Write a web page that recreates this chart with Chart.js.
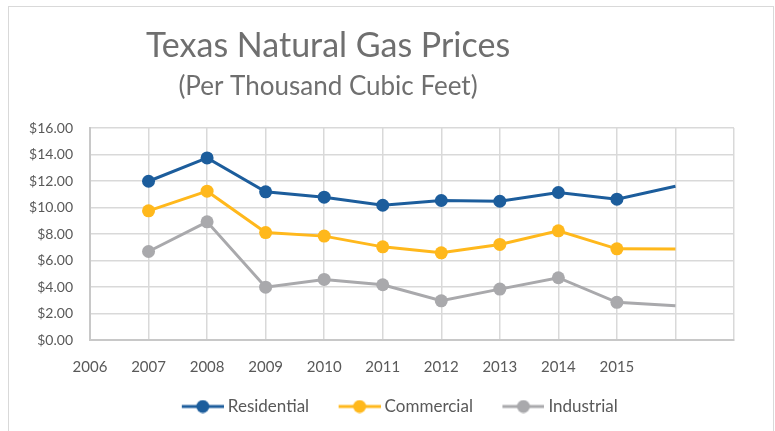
<!DOCTYPE html>
<html>
<head>
<meta charset="utf-8">
<script src="https://cdn.jsdelivr.net/npm/chart.js@4/dist/chart.umd.min.js"></script>
<style>
  body { margin: 0; background: white; }
  #frame { position: absolute; left: 8px; top: 6px; width: 764px; height: 440px; border: 1px solid #d9d9d9; }
  #wrap { position: absolute; left: 0; top: 0; width: 775px; height: 431px; }
</style>
</head>
<body>
<div id="frame"></div>
<div id="wrap"><canvas id="gasChart" width="775" height="431"></canvas></div>
<script>
// years the points sit on (2016 point has no marker, no label)
var years = [2007, 2008, 2009, 2010, 2011, 2012, 2013, 2014, 2015, 2016]
var residential = [11.98, 13.74, 11.18, 10.78, 10.17, 10.53, 10.47, 11.13, 10.63, 11.60]
var commercial  = [9.75, 11.23, 8.11, 7.84, 7.03, 6.58, 7.21, 8.24, 6.88, 6.86]
var industrial  = [6.68, 8.92, 3.99, 4.57, 4.17, 2.96, 3.84, 4.70, 2.84, 2.59]
var seriesNames = ["Residential", "Commercial", "Industrial"]
var seriesColors = ["#1c5d9c", "#ffb81c", "#a9a9ac"]
var titleText = "Texas Natural Gas Prices"
var subtitleText = "(Per Thousand Cubic Feet)"
var firstLabel = 2006, lastLabel = 2015

var FONT = "Lato, 'Open Sans', sans-serif"

// legend icon: line + dot, blank space on the left so items sit like excel's
function legendIcon(color){
    var c = document.createElement("canvas")
    c.width = 66; c.height = 14
    var g = c.getContext("2d")
    g.strokeStyle = color
    g.lineWidth = 3
    g.beginPath(); g.moveTo(24, 7); g.lineTo(66, 7); g.stroke()
    g.fillStyle = color
    g.beginPath(); g.arc(45, 7, 6.5, 0, Math.PI * 2); g.fill()
    return c
}

function makeSet(i, values){
    return {
        label: seriesNames[i],
        data: years.map((y, k) => ({ x: y, y: values[k] })),
        borderColor: seriesColors[i],
        backgroundColor: seriesColors[i],
        borderWidth: 3,
        pointRadius: years.map((y, k) => k == years.length - 1 ? 0 : 6.5),
        pointHoverRadius: 6.5,
        pointBorderWidth: 0,
        pointStyle: "circle",
        tension: 0,
        clip: false
    }
}

var titles = {
    id: "titles",
    afterLayout(chart){
        // legend sits a bit right of the canvas centre in the original
        chart.legend.left += 23
        chart.legend.right += 23
    },
    afterDraw(chart){
        const ctx = chart.ctx
        ctx.save()
        ctx.fillStyle = "#6f6f6f"
        ctx.textAlign = "center"
        ctx.textBaseline = "alphabetic"
        ctx.font = "34px " + FONT
        ctx.fillText(titleText, 328, 57)
        ctx.font = "26px " + FONT
        ctx.fillText(subtitleText, 328, 95)
        ctx.restore()
    }
}

var sets = [makeSet(0, residential), makeSet(1, commercial), makeSet(2, industrial)]
var icons = seriesColors.map(legendIcon)

var chart = new Chart(document.getElementById("gasChart").getContext("2d"), {
    type: "line",
    data: { datasets: sets },
    options: {
        responsive: false,
        animation: false,
        layout: { padding: { left: 0, right: 41, top: 128, bottom: 6 } },
        scales: {
            x: {
                type: "linear",
                min: 2006,
                max: 2017,
                grid: { color: "#d9d9d9", lineWidth: 1.5, drawTicks: false },
                border: { color: "#c8c8c8", width: 2 },
                ticks: {
                    stepSize: 1,
                    padding: 18,
                    color: "#595959",
                    font: { family: FONT, size: 15 },
                    callback: v => (v >= firstLabel && v <= lastLabel) ? String(v) : ""
                },
                afterFit(scale){ scale.height = 48 }
            },
            y: {
                min: 0,
                max: 16,
                grid: { color: "#d9d9d9", lineWidth: 1.5, drawTicks: false },
                border: { color: "#c8c8c8", width: 2 },
                ticks: {
                    stepSize: 2,
                    padding: 17,
                    color: "#595959",
                    font: { family: FONT, size: 14 },
                    callback: v => "$" + v.toFixed(2)
                },
                afterFit(scale){ scale.width = 90 }
            }
        },
        plugins: {
            tooltip: { enabled: false },
            legend: {
                position: "bottom",
                labels: {
                    usePointStyle: true,
                    pointStyleWidth: 57,
                    boxHeight: 14,
                    padding: 10,
                    color: "#595959",
                    font: { family: FONT, size: 17 },
                    generateLabels(chart){
                        return chart.data.datasets.map((ds, i) => ({
                            text: ds.label,
                            pointStyle: icons[i],
                            fillStyle: ds.borderColor,
                            strokeStyle: ds.borderColor,
                            lineWidth: 0,
                            fontColor: "#595959",
                            datasetIndex: i
                        }))
                    }
                }
            }
        }
    },
    plugins: [titles]
})
</script>
</body>
</html>
